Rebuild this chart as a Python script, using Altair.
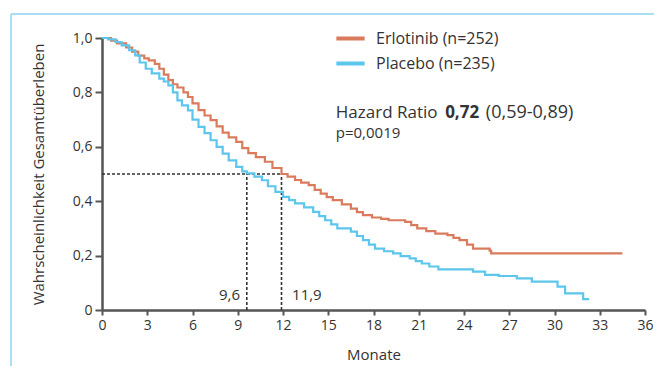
import altair as alt
import pandas as pd

# ---- data ----
erl_t = [0, 0.6, 1.0, 1.6, 2.0, 2.4, 2.8, 3.1, 3.5, 3.8, 4.1, 4.4, 4.7, 5.0, 5.4, 5.7, 6.0, 6.4, 6.8, 7.2,
         7.6, 8.0, 8.4, 8.9, 9.3, 9.7, 10.2, 10.8, 11.3, 11.9, 12.3, 12.8, 13.2, 13.7, 14.1, 14.5, 14.9, 15.3, 15.9, 16.5,
         16.9, 17.3, 17.9, 18.5, 19.0, 20.1, 20.5, 20.9, 21.5, 22.1, 22.9, 23.3, 23.7, 24.2, 24.6, 25.7, 25.8, 34.5]
erl_s = [1.0, 0.99, 0.98, 0.965, 0.95, 0.935, 0.925, 0.918, 0.905, 0.887, 0.865, 0.845, 0.83, 0.818, 0.80, 0.783, 0.76, 0.735, 0.715, 0.698,
         0.675, 0.652, 0.635, 0.618, 0.595, 0.577, 0.562, 0.545, 0.522, 0.50, 0.49, 0.478, 0.468, 0.459, 0.442, 0.428, 0.415, 0.404, 0.388, 0.373,
         0.36, 0.349, 0.34, 0.335, 0.330, 0.324, 0.312, 0.300, 0.29, 0.281, 0.275, 0.265, 0.257, 0.24, 0.226, 0.218, 0.208, 0.208]

pla_t = [0, 0.4, 0.9, 1.3, 1.8, 2.2, 2.5, 2.9, 3.3, 3.8, 4.1, 4.4, 4.7, 5.0, 5.3, 5.7, 6.0, 6.4, 6.8, 7.2,
         7.6, 8.0, 8.4, 8.9, 9.3, 9.6, 10.1, 10.6, 11.0, 11.5, 12.0, 12.4, 12.8, 13.4, 14.0, 14.4, 14.8, 15.2, 15.6, 16.5,
         16.9, 17.3, 17.7, 18.1, 18.7, 19.3, 19.8, 20.4, 20.8, 21.2, 21.7, 22.3, 23.5, 24.6, 25.4, 26.3, 27.5, 28.5, 29.6, 30.2,
         30.7, 31.6, 31.9, 32.3]
pla_s = [1.0, 0.995, 0.985, 0.973, 0.955, 0.936, 0.91, 0.887, 0.87, 0.851, 0.84, 0.826, 0.80, 0.771, 0.752, 0.734, 0.70, 0.673, 0.65, 0.624,
         0.60, 0.575, 0.55, 0.526, 0.51, 0.502, 0.49, 0.477, 0.455, 0.434, 0.416, 0.404, 0.392, 0.377, 0.361, 0.345, 0.330, 0.315, 0.300, 0.288,
         0.272, 0.257, 0.24, 0.226, 0.216, 0.208, 0.198, 0.190, 0.18, 0.171, 0.16, 0.149, 0.149, 0.141, 0.129, 0.125, 0.116, 0.104, 0.104, 0.086,
         0.061, 0.061, 0.040, 0.040]

series_names = ["Erlotinib (n=252)", "Placebo (n=235)"]
series_colors = ["#d97b5c", "#5cc6ec"]

medians = [9.6, 11.9]
median_labels = ["9,6", "11,9"]

x_ticks = list(range(0, 37, 3))
y_ticks = [0, 0.2, 0.4, 0.6, 0.8, 1.0]

FONT = "Open Sans, Noto Sans, DejaVu Sans, sans-serif"
TXT = "#333333"
AX = "#555555"

curves = pd.DataFrame(
    [{"t": t, "s": s, "grp": series_names[0]} for t, s in zip(erl_t, erl_s)]
    + [{"t": t, "s": s, "grp": series_names[1]} for t, s in zip(pla_t, pla_s)]
)

xscale = alt.Scale(domain=[0, 36], nice=False, zero=False)
yscale = alt.Scale(domain=[0, 1], nice=False)

x_enc = alt.X("t:Q", scale=xscale, title="Monate",
              axis=alt.Axis(values=x_ticks, grid=False, tickSize=5, labelPadding=3,
                            titlePadding=15, labelFlush=False))
y_enc = alt.Y("s:Q", scale=yscale, title="Wahrscheinlichkeit Gesamtüberleben",
              axis=alt.Axis(values=y_ticks, grid=False, tickSize=7, labelPadding=3,
                            titlePadding=26,
                            labelExpr="datum.value == 0 ? '0' : replace(format(datum.value, '.1f'), '.', ',')"))

lines = alt.Chart(curves).mark_line(interpolate="step-after", strokeWidth=2.2).encode(
    x=x_enc, y=y_enc,
    color=alt.Color("grp:N", scale=alt.Scale(domain=series_names, range=series_colors),
                    legend=alt.Legend(title=None, orient="none", legendX=232, legendY=-16,
                                      symbolType="stroke", symbolSize=800, symbolStrokeWidth=4,
                                      labelFontSize=16, labelFont=FONT, labelColor=TXT,
                                      rowPadding=-1, labelOffset=9)),
    detail="grp:N",
)

# median dashed guides
hline = pd.DataFrame({"x": [0], "x2": [medians[1]], "y": [0.5]})
vlines = pd.DataFrame({"x": medians, "y": [0, 0], "y2": [0.5, 0.5]})
dash = dict(color="#333333", strokeDash=[3, 2], strokeWidth=1.6)
h_rule = alt.Chart(hline).mark_rule(**dash).encode(
    x=alt.X("x:Q", scale=xscale), x2="x2", y=alt.Y("y:Q", scale=yscale))
v_rule = alt.Chart(vlines).mark_rule(**dash).encode(
    x=alt.X("x:Q", scale=xscale), y=alt.Y("y:Q", scale=yscale), y2="y2")

# median labels
med_df = pd.DataFrame({"x": [9.15, 12.6], "y": [0.055, 0.055], "label": median_labels})
med_left = alt.Chart(med_df.iloc[[0]]).mark_text(align="right", font=FONT, fontSize=15, color=TXT).encode(
    x=alt.X("x:Q", scale=xscale), y=alt.Y("y:Q", scale=yscale), text="label:N")
med_right = alt.Chart(med_df.iloc[[1]]).mark_text(align="left", font=FONT, fontSize=15, color=TXT).encode(
    x=alt.X("x:Q", scale=xscale), y=alt.Y("y:Q", scale=yscale), text="label:N")

# hazard ratio annotation
ann = pd.DataFrame({
    "x": [15.5, 22.75, 25.45, 15.5],
    "y": [0.724, 0.724, 0.724, 0.651],
    "label": ["Hazard Ratio", "0,72", "(0,59-0,89)", "p=0,0019"],
    "w": ["normal", "bold", "normal", "normal"],
    "fs": [17, 17, 18, 15],
})
ann_norm = alt.Chart(ann[ann.w == "normal"]).mark_text(align="left", font=FONT, color=TXT).encode(
    x=alt.X("x:Q", scale=xscale), y=alt.Y("y:Q", scale=yscale), text="label:N",
    size=alt.Size("fs:Q", scale=None, legend=None))
ann_bold = alt.Chart(ann[ann.w == "bold"]).mark_text(align="left", font=FONT, fontWeight="bold", color=TXT).encode(
    x=alt.X("x:Q", scale=xscale), y=alt.Y("y:Q", scale=yscale), text="label:N",
    size=alt.Size("fs:Q", scale=None, legend=None))

# decorative light-blue frame
frame_data = alt.Data(values=[{}])
frame_top = alt.Chart(frame_data).mark_rule(color="#a9def3", strokeWidth=2).encode(
    x=alt.value(-91), x2=alt.value(700), y=alt.value(-24))
frame_left = alt.Chart(frame_data).mark_rule(color="#a9def3", strokeWidth=2).encode(
    x=alt.value(-91), y=alt.value(-24), y2=alt.value(400))

chart = alt.layer(frame_top, frame_left, h_rule, v_rule, lines, med_left, med_right, ann_norm, ann_bold).properties(
    width=543, height=272,
    autosize=alt.AutoSizeParams(type="none"),
    padding={"left": 94, "top": 30, "right": 9, "bottom": 56},
    background="white",
).configure_view(stroke=None).configure_axis(
    domainColor=AX, domainWidth=2.5, tickColor=AX, tickWidth=2,
    labelFont=FONT, labelFontSize=14, labelColor=TXT,
    titleFont=FONT, titleFontSize=15, titleColor=TXT, titleFontWeight="normal",
)

chart.save("out.html", embed_options={"renderer": "svg", "actions": False})
